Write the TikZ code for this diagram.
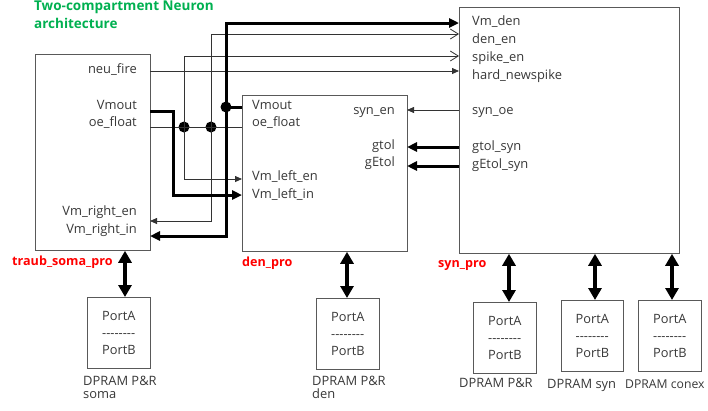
\documentclass[tikz,border=0pt]{standalone}
\usepackage{fontspec}
\setmainfont{Open Sans}
\usetikzlibrary{arrows.meta,positioning,calc}
\definecolor{ink}  {HTML}{383838}
\definecolor{frame}{HTML}{595959}
\definecolor{leaf} {HTML}{00B050}
\definecolor{alert}{HTML}{FF0000}
\newcommand{\hyrow}{-\kern0pt-\kern0pt-\kern0pt-\kern0pt-\kern0pt-\kern0pt-\kern0pt-}

\begin{document}
\begin{tikzpicture}[x=1pt,y=-1pt,
  blk/.style={draw=frame,line width=0.8pt,inner sep=0pt,anchor=north west},
  ram/.style={blk,minimum width=63pt,minimum height=71pt,align=left,text=ink,font=\fontsize{12.8}{17}\selectfont},
  pin/.style={text=ink,inner sep=0pt,font=\fontsize{12.9}{13}\selectfont},
  ramnote/.style={pin,anchor=north west,align=left},
  tag/.style={text=alert,inner sep=0pt,anchor=west,font=\bfseries\fontsize{12.6}{13}\selectfont},
  sig/.style={black!80,line width=0.8pt},
  bus/.style={black,line width=3pt},
  duplex/.style={black,line width=4pt,{Triangle[length=12pt,width=13pt]}-{Triangle[length=12pt,width=13pt]}},
  dot/.style={circle,fill=black,inner sep=0pt,minimum size=11pt}]
\useasboundingbox (0,0) rectangle (708,410);
% title
\node[anchor=north west,align=left,inner sep=0pt,text=leaf,font=\bfseries\fontsize{13.5}{18}\selectfont] (ttl) at (34,0.5) {Two-compartment Neuron\\architecture};
% processing blocks
\node[blk,minimum width=115pt,minimum height=196pt] (soma) at (35,54) {};
\node[blk,minimum width=165pt,minimum height=156pt] (den) at (242,95) {};
\node[blk,minimum width=220pt,minimum height=246pt] (syn) at (459,7) {};
\node[tag] (l-soma) at (12,262) {traub\_soma\_pro};
\node[tag] (l-den) at (242,263) {den\_pro};
\node[tag] (l-syn) at (438,266) {syn\_pro};
% soma pins
\node[pin,anchor=mid east] (t-nf) at (137,71) {neu\_fire};
\node[pin,anchor=mid east] (t-vm) at (137,107) {Vmout};
\node[pin,anchor=mid east] (t-oe) at (137,124) {oe\_float};
\node[pin,anchor=mid east] (t-re) at (137,213) {Vm\_right\_en};
\node[pin,anchor=mid east] (t-ri) at (137,231) {Vm\_right\_in};
% den pins
\node[pin,anchor=mid west] (d-vm) at (252,107) {Vmout};
\node[pin,anchor=mid west] (d-oe) at (252,124) {oe\_float};
\node[pin,anchor=mid west] (d-le) at (252,178) {Vm\_left\_en};
\node[pin,anchor=mid west] (d-li) at (252,196) {Vm\_left\_in};
\node[pin,anchor=mid east] (d-se) at (395,112) {syn\_en};
\node[pin,anchor=mid east] (d-gt) at (395,147) {gtol};
\node[pin,anchor=mid east] (d-ge) at (395,164) {gEtol};
% syn pins
\node[pin,anchor=mid west] (s-vd) at (472,23) {Vm\_den};
\node[pin,anchor=mid west] (s-de) at (472,41) {den\_en};
\node[pin,anchor=mid west] (s-se) at (472,59) {spike\_en};
\node[pin,anchor=mid west] (s-hn) at (472,77) {hard\_newspike};
\node[pin,anchor=mid west] (s-oe) at (472,112) {syn\_oe};
\node[pin,anchor=mid west] (s-gt) at (472,148) {gtol\_syn};
\node[pin,anchor=mid west] (s-ge) at (472,166) {gEtol\_syn};
% wire ends on the block edges
\coordinate (so-nf) at (150,71);
\coordinate (so-vm) at (150,111);
\coordinate (so-oe) at (150,127);
\coordinate (so-re) at (150,221);
\coordinate (so-ri) at (150,236);
\coordinate (dn-vm) at (242,107);
\coordinate (dn-oe) at (242,127);
\coordinate (dn-le) at (242,179);
\coordinate (dn-li) at (242,195);
\coordinate (dn-se) at (407,110);
\coordinate (dn-gt) at (407,147);
\coordinate (dn-ge) at (407,166);
\coordinate (sy-vd) at (459,23);
\coordinate (sy-de) at (459,34);
\coordinate (sy-se) at (459,56);
\coordinate (sy-hn) at (459,71);
\coordinate (sy-oe) at (459,110);
\coordinate (sy-gt) at (459,147);
\coordinate (sy-ge) at (459,166);
% junctions
\node[dot] (jA) at (184,127) {};
\node[dot] (jB) at (211,127) {};
\node[dot] (jC) at (226,107) {};
% thin wires
\draw[sig,-{Triangle[length=7pt,width=6pt]}] (so-nf) -- (sy-hn);
\draw[sig] (so-oe) -- (dn-oe);
\draw[sig,-{Straight Barb[length=8pt,width=10pt]}] (jA.center) |- (sy-se);
\draw[sig,-{Triangle[length=7pt,width=6pt]}] (jA.center) |- (dn-le);
\draw[sig,-{Straight Barb[length=8pt,width=10pt]}] (jB.center) |- (sy-de);
\draw[sig,-{Triangle[length=7pt,width=6pt]}] (jB.center) |- (so-re);
\draw[sig,-{Triangle[length=7pt,width=6pt]}] (sy-oe) -- (dn-se);
% thick wires
\draw[bus,-{Triangle[length=10pt,width=9pt]}] (so-vm) -- ++(23,0) |- (dn-li);
\draw[bus] (dn-vm) -- (jC.center);
\draw[bus,-{Triangle[length=10pt,width=9pt]}] (jC.center) |- (sy-vd);
\draw[bus,-{Triangle[length=10pt,width=9pt]}] (jC.center) |- (so-ri);
\draw[bus,-{Triangle[length=10pt,width=9pt]}] (sy-gt) -- (dn-gt);
\draw[bus,-{Triangle[length=10pt,width=9pt]}] (sy-ge) -- (dn-ge);
% dual-port memories
\node[ram] (d1) at (87,297) {PortA\\\hyrow\\PortB};
\node[ram] (d2) at (316,298) {PortA\\\hyrow\\PortB};
\node[ram] (d3) at (473,302) {PortA\\\hyrow\\PortB};
\node[ram,minimum width=62pt] (d4) at (561,300) {PortA\\\hyrow\\PortB};
\node[ram] (d5) at (638,300) {PortA\\\hyrow\\PortB};
\node[ramnote] (c1) at (83,376) {DPRAM P\&R\\soma};
\node[ramnote] (c2) at (312,376) {DPRAM P\&R\\den};
\node[ramnote] (c3) at (459,378) {DPRAM P\&R};
\node[ramnote] (c4) at (547,379) {DPRAM syn};
\node[ramnote,font=\fontsize{12.2}{13}\selectfont] (c5) at (625,379.5) {DPRAM conex};
% memory buses
\coordinate (b1) at (125,0);
\coordinate (b2) at (347,0);
\coordinate (b3) at (509,0);
\coordinate (b4) at (595,0);
\coordinate (b5) at (672,0);
\draw[duplex] (soma.south -| b1) -- (d1.north -| b1);
\draw[duplex] (den.south -| b2) -- (d2.north -| b2);
\draw[duplex] (syn.south -| b3) -- (d3.north -| b3);
\draw[duplex] (syn.south -| b4) -- (d4.north -| b4);
\draw[duplex] (syn.south -| b5) -- (d5.north -| b5);
\end{tikzpicture}
\end{document}
